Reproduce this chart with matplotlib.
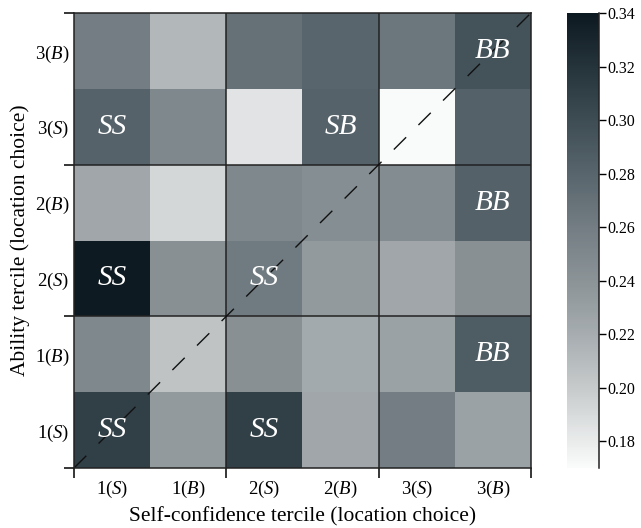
import numpy as np
import matplotlib
matplotlib.use('Agg')
import matplotlib.pyplot as plt
from matplotlib.colors import LinearSegmentedColormap

plt.rcParams['font.family'] = ['Liberation Serif', 'DejaVu Serif']
plt.rcParams['mathtext.fontset'] = 'custom'
plt.rcParams['mathtext.rm'] = 'Liberation Serif'
plt.rcParams['mathtext.it'] = 'Liberation Serif:italic'

# terciles, top row first (ability) / left column first (self-confidence)
row_labels = [r'3($B$)', r'3($S$)', r'2($B$)', r'2($S$)', r'1($B$)', r'1($S$)']
col_labels = [r'1($S$)', r'1($B$)', r'2($S$)', r'2($B$)', r'3($S$)', r'3($B$)']

share = [
    [0.260, 0.213, 0.270, 0.280, 0.265, 0.295],
    [0.282, 0.250, 0.185, 0.282, 0.171, 0.283],
    [0.225, 0.192, 0.250, 0.245, 0.247, 0.283],
    [0.339, 0.243, 0.262, 0.235, 0.225, 0.243],
    [0.250, 0.205, 0.243, 0.222, 0.228, 0.287],
    [0.310, 0.235, 0.310, 0.225, 0.260, 0.228],
]

cell_tags = [
    ['', '', '', '', '', 'BB'],
    ['SS', '', '', 'SB', '', ''],
    ['', '', '', '', '', 'BB'],
    ['SS', '', 'SS', '', '', ''],
    ['', '', '', '', '', 'BB'],
    ['SS', '', 'SS', '', '', ''],
]

vmin, vmax = 0.17, 0.34

# white -> slate grey -> near black
stops = [(0.17, '#fafbfb'), (0.18, '#e9ebeb'), (0.20, '#c6cacb'), (0.22, '#a6acaf'),
         (0.24, '#8b9397'), (0.26, '#737d83'), (0.28, '#58656c'), (0.30, '#3e4c54'),
         (0.32, '#25333b'), (0.34, '#0d1920')]
cmap = LinearSegmentedColormap.from_list(
    'slate', [((v - vmin) / (vmax - vmin), c) for v, c in stops])

vals = np.array(share)
n = vals.shape[0]

fig = plt.figure(figsize=(6.41, 5.28), dpi=100)
ax = fig.add_axes([0.1154, 0.1136, 0.7129, 0.8618])
cax = fig.add_axes([0.8846, 0.1136, 0.050, 0.8618])

mesh = ax.pcolormesh(np.arange(n + 1), np.arange(n + 1), vals, cmap=cmap,
                     vmin=vmin, vmax=vmax)
ax.set_xlim(0, n)
ax.set_ylim(n, 0)

for i in range(n):
    for j in range(n):
        if cell_tags[i][j]:
            ax.text(j + 0.5, i + 0.5, cell_tags[i][j], color='white', style='italic',
                    fontsize=21, ha='center', va='center')

# group boundaries
for b in (2, 4):
    ax.axhline(b, color='#222222', lw=1.1)
    ax.axvline(b, color='#222222', lw=1.1)

ax.plot([0, n], [n, 0], color='#111111', lw=1.0, dashes=(12.5, 12.5))

for s in ax.spines.values():
    s.set_color('#222222')
    s.set_linewidth(1.1)

ax.set_xticks([0, 2, 4, 6])
ax.set_yticks([0, 2, 4, 6])
ax.set_xticklabels([])
ax.set_yticklabels([])
ax.tick_params(axis='x', which='major', length=7, width=1.1, direction='out')
ax.tick_params(axis='y', which='major', length=7, width=1.1, direction='out')
ax.set_xticks(np.arange(n) + 0.5, minor=True)
ax.set_yticks(np.arange(n) + 0.5, minor=True)
ax.set_xticklabels(col_labels, minor=True, fontsize=13.5)
ax.set_yticklabels(row_labels, minor=True, fontsize=13.5)
ax.tick_params(axis='x', which='minor', length=0, pad=8)
ax.tick_params(axis='y', which='minor', length=0, pad=3)

ax.set_xlabel('Self-confidence tercile (location choice)', fontsize=15.5, labelpad=5)
ax.set_ylabel('Ability tercile (location choice)', fontsize=15.5, labelpad=4)

cbar = fig.colorbar(mesh, cax=cax)
cbar.outline.set_visible(False)
cax.plot([1, 1], [0, 1], transform=cax.transAxes, color='#222222', lw=1.1, clip_on=False)
cbar.set_ticks([0.18, 0.20, 0.22, 0.24, 0.26, 0.28, 0.30, 0.32, 0.34])
cbar.ax.set_yticklabels(['0.18', '0.20', '0.22', '0.24', '0.26', '0.28', '0.30', '0.32', '0.34'])
cax.tick_params(length=5, width=1, labelsize=11.5, pad=1)

fig.savefig('out.png', dpi=100)
